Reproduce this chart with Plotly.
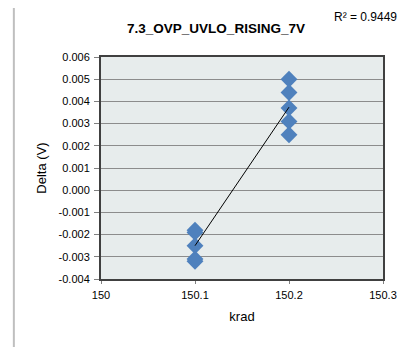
import numpy as np
import plotly.graph_objects as go

# ---- data ----
krad = [150.1, 150.1, 150.1, 150.1, 150.1, 150.2, 150.2, 150.2, 150.2, 150.2]
delta = [-0.0018, -0.0019, -0.0025, -0.0031, -0.0032, 0.0050, 0.0044, 0.0037, 0.0031, 0.0025]
title_text = "7.3_OVP_UVLO_RISING_7V"
r2_text = "R² = 0.9449"
x_ticks = [150, 150.1, 150.2, 150.3]
x_tick_labels = ["150", "150.1", "150.2", "150.3"]
y_ticks = [-0.004, -0.003, -0.002, -0.001, 0.0, 0.001, 0.002, 0.003, 0.004, 0.005, 0.006]
y_tick_labels = ["-0.004", "-0.003", "-0.002", "-0.001", "0.000", "0.001", "0.002",
                 "0.003", "0.004", "0.005", "0.006"]

# linear trendline (least squares) over the data range
xa = np.array(krad)
ya = np.array(delta)
slope, intercept = np.polyfit(xa - 150.0, ya, 1)
tx = np.array([xa.min(), xa.max()])
ty = slope * (tx - 150.0) + intercept

FONT = "Liberation Sans"
OFF = 8  # page body margin
W, H = 409 - OFF, 347 - OFF
PL, PR, PT, PB = 101, 389, 57, 279  # plot area in window pixels
PW, PH = PR - PL, PB - PT

fig = go.Figure()
fig.add_trace(go.Scatter(
    x=krad, y=delta, mode="markers",
    marker=dict(symbol="diamond", size=13, color="#4F81BD",
                line=dict(width=0)),
    showlegend=False, hoverinfo="skip"))
fig.add_trace(go.Scatter(
    x=tx, y=ty, mode="lines",
    line=dict(color="#000000", width=1),
    showlegend=False, hoverinfo="skip"))

axis_common = dict(showline=True, linecolor="#404040", linewidth=2, mirror=True,
                   ticks="outside", tickcolor="#808080",
                   tickfont=dict(family=FONT, size=11, color="#000000"),
                   zeroline=False)

fig.update_xaxes(range=[150, 150.3], tickvals=x_ticks, ticktext=x_tick_labels,
                 showgrid=False, ticklen=3, ticklabelstandoff=2,
                 title=dict(text="krad", font=dict(family=FONT, size=13, color="#000"),
                            standoff=12),
                 **axis_common)
fig.update_yaxes(range=[-0.004, 0.006], tickvals=y_ticks, ticktext=y_tick_labels,
                 showgrid=True, gridcolor="#8C8C8C", gridwidth=1,
                 ticklen=5, ticklabelstandoff=2,
                 title=dict(text="Delta (V)", font=dict(family=FONT, size=13, color="#000"),
                            standoff=9),
                 **axis_common)

fig.update_layout(
    width=W, height=H,
    margin=dict(l=PL - OFF, r=W - (PR - OFF), t=PT - OFF, b=H - (PB - OFF)),
    paper_bgcolor="#FFFFFF",
    plot_bgcolor="#E7ECEC",
    font=dict(family=FONT),
    title=dict(text="<b>" + title_text + "</b>", x=(216 - OFF) / W, xanchor="center",
               y=1 - (28 - OFF) / H, yanchor="middle",
               font=dict(family=FONT, size=13.5, color="#000000")),
    annotations=[dict(text=r2_text, xref="paper", yref="paper",
                      x=(337 - PL) / PW, y=1 + (PT - 17) / PH,
                      xanchor="left", yanchor="middle", showarrow=False,
                      font=dict(family=FONT, size=12, color="#000000"))],
    shapes=[dict(type="rect", xref="paper", yref="paper",
                 x0=(12 - PL) / PW, x1=1.3, y0=-0.5, y1=1 + (PT - 5) / PH,
                 line=dict(color="#BFBFBF", width=2), fillcolor="rgba(0,0,0,0)",
                 layer="below")],
)

fig.write_html("out.html")
